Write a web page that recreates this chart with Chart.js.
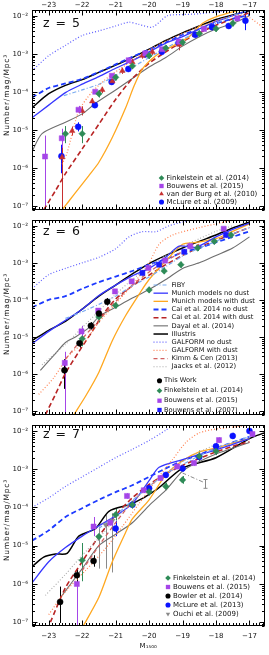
<!DOCTYPE html>
<html>
<head>
<meta charset="utf-8">
<script src="https://cdn.jsdelivr.net/npm/chart.js@4.4.1/dist/chart.umd.min.js"></script>
<style>
html, body { margin: 0; padding: 0; background: #fff; }
#wrap { position: relative; width: 269px; height: 655px; overflow: hidden; }
canvas { position: absolute; left: 0; }
</style>
</head>
<body>
<div id="wrap">
  <canvas id="c5" width="269" height="218" style="top:0px"></canvas>
  <canvas id="c6" width="269" height="211" style="top:212px"></canvas>
  <canvas id="c7" width="269" height="238" style="top:417px"></canvas>
</div>
<script>
// UV luminosity functions at z = 5, 6, 7
// all values: [M1500, log10(number / mag / Mpc^3)]; data points may add [.., err down, err up] in dex

const X_MIN = -23.5, X_MAX = -16.55;
const Y_MIN = -7.1, Y_MAX = -1.85;
const X_TICKS = [-23, -22, -21, -20, -19, -18, -17];
const Y_TICKS = [-7, -6, -5, -4, -3, -2];

// ---- z = 5 models ----
const Z5_FIBY = [[-22.55,-4.1],[-22.0,-3.95],[-21.5,-3.8],[-21.0,-3.58],[-20.5,-3.35],[-20.0,-3.1],[-19.5,-2.85],[-19.0,-2.62],[-18.5,-2.4],[-18.0,-2.2],[-17.5,-2.0],[-17.0,-1.85]];
const Z5_MUNICH_ND = [[-23.5,-4.68],[-23.0,-4.35],[-22.5,-4.02],[-22.0,-3.8],[-21.5,-3.6],[-21.0,-3.38],[-20.5,-3.18],[-20.0,-2.95],[-19.5,-2.72],[-19.0,-2.55],[-18.5,-2.35],[-18.0,-2.15],[-17.5,-2.0],[-17.0,-1.85]];
const Z5_MUNICH_D = [[-22.6,-7.1],[-22.2,-6.65],[-21.8,-6.2],[-21.5,-5.85],[-21.1,-5.2],[-20.7,-4.42],[-20.45,-3.85],[-20.2,-3.4],[-19.8,-3.05],[-19.3,-2.8],[-18.8,-2.55],[-18.4,-2.2],[-17.9,-2.0],[-17.3,-1.85]];
const Z5_CAI_ND = [[-23.5,-4.15],[-23.0,-3.9],[-22.5,-3.78],[-22.0,-3.66],[-21.5,-3.48],[-21.0,-3.28],[-20.5,-3.08],[-20.0,-2.89],[-19.5,-2.7],[-19.0,-2.5],[-18.5,-2.35],[-18.0,-2.2],[-17.5,-2.08],[-17.0,-1.98]];
const Z5_CAI_D = [[-23.15,-7.1],[-22.8,-6.6],[-22.5,-6.15],[-22.0,-5.5],[-21.5,-4.85],[-21.0,-4.2],[-20.5,-3.65],[-20.0,-3.25],[-19.5,-2.95],[-19.0,-2.68],[-18.5,-2.45],[-18.0,-2.25],[-17.5,-2.08],[-17.0,-1.92]];
const Z5_DAYAL = [[-23.5,-5.57],[-23.2,-5.1],[-22.5,-4.8],[-22.0,-4.58],[-21.6,-4.3],[-21.0,-3.95],[-20.5,-3.65],[-20.0,-3.35],[-19.5,-3.1],[-19.0,-2.8],[-18.5,-2.55],[-18.0,-2.35],[-17.5,-2.2],[-17.0,-2.0]];
const Z5_ILLUSTRIS = [[-23.5,-4.42],[-23.0,-4.05],[-22.5,-3.83],[-22.0,-3.68],[-21.5,-3.49],[-21.0,-3.3],[-20.5,-3.1],[-20.0,-2.88],[-19.5,-2.65],[-19.0,-2.45],[-18.5,-2.27],[-18.0,-2.1],[-17.5,-1.98],[-17.0,-1.87]];
const Z5_GAL_ND = [[-23.5,-3.45],[-23.0,-3.05],[-22.5,-2.78],[-22.0,-2.52],[-21.5,-2.4],[-21.0,-2.27],[-20.6,-2.17],[-20.3,-2.23],[-19.9,-2.3],[-19.45,-2.0],[-19.0,-1.97],[-18.5,-1.95],[-18.0,-1.9],[-17.5,-1.85],[-17.0,-1.8]];
const Z5_GAL_D = [[-22.6,-5.9],[-22.45,-5.6],[-22.1,-4.5],[-21.7,-4.0],[-21.2,-3.6],[-20.7,-3.3],[-20.2,-3.0],[-19.7,-2.75],[-19.2,-2.55],[-18.7,-2.35],[-18.2,-2.2],[-17.7,-2.05],[-17.3,-1.98],[-17.0,-2.05],[-16.6,-2.3]];

// ---- z = 5 data ----
const Z5_FINK = [[-22.5,-5.1,0.25,0.2],[-22.0,-5.1,0.25,0.2],[-21.5,-4.05,0.1],[-21.0,-3.62],[-20.5,-3.32],[-20.0,-3.05],[-19.5,-2.85],[-19.0,-2.7],[-18.5,-2.47],[-18.0,-2.34],[-17.5,-2.2]];
const Z5_BOU15 = [[-23.11,-5.70,2,0.55],[-22.61,-5.22,0.45,0.25],[-22.11,-4.47,0.1],[-21.61,-4.0],[-21.11,-3.58],[-20.61,-3.17],[-20.11,-2.99],[-19.61,-2.88],[-19.11,-2.68],[-18.36,-2.35],[-17.36,-2.07]];
const Z5_VDB = [[-22.6,-5.72,2,0.25],[-22.3,-5.03,0.12],[-22.0,-4.5,0.12],[-21.7,-4.25],[-21.4,-3.95],[-21.1,-3.72],[-20.8,-3.45],[-20.5,-3.22],[-20.2,-3.05],[-19.9,-2.95],[-19.1,-2.76,0.15]];
const Z5_MCLURE = [[-22.62,-5.69,0.45,0.3],[-22.12,-4.92,0.12],[-21.62,-4.35],[-21.12,-3.74],[-20.62,-3.4],[-20.12,-3.02],[-19.62,-2.95],[-19.12,-2.72],[-18.62,-2.5],[-18.12,-2.3],[-17.62,-2.27],[-17.12,-2.13,0.25]];

// ---- z = 6 models ----
const Z6_FIBY = [[-22.5,-4.5],[-22.0,-4.32],[-21.5,-4.12],[-21.0,-3.9],[-20.5,-3.62],[-20.0,-3.38],[-19.5,-3.1],[-19.0,-2.82],[-18.5,-2.6],[-18.0,-2.42],[-17.5,-2.22],[-17.0,-2.05]];
const Z6_MUNICH_ND = [[-23.5,-5.18],[-23.0,-4.85],[-22.5,-4.55],[-22.0,-4.25],[-21.5,-3.88],[-21.0,-3.6],[-20.5,-3.35],[-20.0,-3.15],[-19.5,-2.85],[-19.1,-2.55],[-18.6,-2.58],[-18.0,-2.3],[-17.5,-2.1],[-17.0,-1.93]];
const Z6_MUNICH_D = [[-22.25,-7.1],[-21.9,-6.6],[-21.5,-5.95],[-21.1,-5.1],[-20.7,-4.42],[-20.3,-3.85],[-20.0,-3.45],[-19.5,-2.95],[-19.0,-2.5],[-18.6,-2.45],[-18.0,-2.35],[-17.5,-2.15],[-17.0,-1.95]];
const Z6_CAI_ND = [[-23.5,-4.2],[-23.0,-4.0],[-22.5,-3.9],[-22.0,-3.7],[-21.5,-3.52],[-21.0,-3.37],[-20.5,-3.22],[-20.0,-3.05],[-19.5,-2.9],[-19.0,-2.72],[-18.5,-2.6],[-18.0,-2.45],[-17.5,-2.3],[-17.0,-2.15]];
const Z6_CAI_D = [[-23.1,-7.1],[-22.8,-6.55],[-22.5,-5.98],[-22.1,-5.4],[-21.7,-4.85],[-21.4,-4.42],[-21.0,-3.98],[-20.5,-3.62],[-20.0,-3.33],[-19.5,-3.05],[-19.0,-2.8],[-18.5,-2.58],[-18.0,-2.4],[-17.5,-2.22],[-17.0,-2.05]];
const Z6_DAYAL = [[-23.25,-5.9],[-22.8,-5.45],[-22.5,-5.15],[-22.2,-5.0],[-21.8,-4.75],[-21.5,-4.45],[-21.0,-4.2],[-20.5,-3.95],[-20.0,-3.72],[-19.5,-3.45],[-19.0,-3.15],[-18.5,-3.0],[-18.0,-2.8],[-17.5,-2.6],[-17.0,-2.3]];
const Z6_ILLUSTRIS = [[-23.5,-5.1],[-23.0,-4.82],[-22.5,-4.58],[-22.0,-4.25],[-21.5,-3.9],[-21.0,-3.6],[-20.5,-3.3],[-20.0,-3.02],[-19.5,-2.8],[-19.0,-2.6],[-18.5,-2.42],[-18.0,-2.25],[-17.5,-2.06],[-17.0,-1.9]];
const Z6_GAL_ND = [[-23.5,-3.7],[-23.0,-3.32],[-22.5,-3.15],[-22.0,-3.0],[-21.5,-2.85],[-21.0,-2.62],[-20.6,-2.3],[-20.2,-2.16],[-19.8,-2.16],[-19.4,-2.0],[-19.0,-1.9],[-18.5,-1.8]];
const Z6_GAL_D = [[-23.3,-6.55],[-22.85,-6.1],[-22.4,-5.5],[-21.9,-5.1],[-21.5,-4.6],[-21.0,-4.1],[-20.5,-3.6],[-20.0,-3.0],[-19.7,-2.5],[-19.3,-2.25],[-18.5,-2.05],[-18.0,-1.95],[-17.5,-1.85]];
const Z6_KIMM = [[-22.5,-5.6],[-22.0,-5.05],[-21.5,-4.55],[-21.0,-4.05],[-20.5,-3.6],[-20.0,-3.25],[-19.5,-2.95],[-19.0,-2.7],[-18.5,-2.5]];
const Z6_JAACKS = [[-23.2,-5.75],[-22.5,-5.2],[-22.0,-4.75],[-21.5,-4.3],[-21.0,-3.85],[-20.5,-3.45],[-20.0,-3.1],[-19.5,-2.8],[-19.0,-2.55],[-18.5,-2.35],[-18.0,-2.15],[-17.5,-2.0]];

// ---- z = 6 data ----
const Z6_THISWORK = [[-22.53,-5.9,0.5,0.3],[-22.08,-5.17,0.12],[-21.74,-4.7,0.1],[-21.5,-4.37],[-21.25,-4.05]];
const Z6_FINK = [[-22.0,-5.05,0.2],[-21.5,-4.46,0.15],[-21.0,-4.15],[-20.0,-3.73],[-19.55,-3.22],[-19.05,-3.05],[-18.55,-2.6],[-18.05,-2.42],[-17.55,-2.25]];
const Z6_BOU15 = [[-22.52,-5.7,2,0.3],[-22.02,-4.85,0.15],[-21.52,-4.29],[-21.02,-3.77],[-20.52,-3.5],[-20.02,-3.14],[-19.52,-2.94],[-18.77,-2.55],[-17.77,-2.08],[-16.77,-1.77]];
const Z6_BOU07 = [[-20.2,-3.27],[-19.7,-3.05],[-18.95,-2.7],[-17.7,-2.25]];

// ---- z = 7 models ----
const Z7_FIBY = [[-21.5,-4.55],[-21.0,-4.2],[-20.5,-3.82],[-20.0,-3.45],[-19.5,-3.12],[-19.0,-2.88],[-18.5,-2.65],[-18.0,-2.45],[-17.5,-2.3],[-17.0,-2.15]];
const Z7_MUNICH_ND = [[-23.5,-5.97],[-23.0,-5.42],[-22.5,-5.05],[-22.0,-4.75],[-21.5,-4.48],[-21.0,-4.22],[-20.5,-3.9],[-20.0,-3.3],[-19.7,-2.95],[-19.0,-2.75],[-18.5,-2.62],[-18.0,-2.5],[-17.5,-2.35],[-17.0,-2.2]];
const Z7_MUNICH_D = [[-22.0,-7.15],[-21.5,-6.35],[-21.1,-5.42],[-20.7,-4.65],[-20.5,-4.3],[-20.0,-3.8],[-19.5,-3.15],[-19.0,-2.78],[-18.5,-2.55],[-18.0,-2.45],[-17.5,-2.32],[-17.0,-2.2]];
const Z7_CAI_ND = [[-23.5,-4.87],[-23.0,-4.6],[-22.5,-4.25],[-22.0,-4.02],[-21.5,-3.8],[-21.0,-3.6],[-20.5,-3.42],[-20.0,-3.2],[-19.5,-2.98],[-19.0,-2.78],[-18.5,-2.62],[-18.0,-2.45],[-17.5,-2.3],[-17.0,-2.15]];
const Z7_CAI_D = [[-22.95,-7.0],[-22.5,-6.1],[-22.0,-5.42],[-21.5,-4.75],[-21.0,-4.2],[-20.5,-3.75],[-20.0,-3.4],[-19.5,-3.12],[-19.0,-2.9],[-18.5,-2.72],[-18.0,-2.55],[-17.5,-2.4],[-17.0,-2.28]];
const Z7_DAYAL = [[-22.6,-6.3],[-22.0,-5.6],[-21.5,-5.0],[-21.0,-4.7],[-20.5,-4.4],[-20.0,-3.95],[-19.5,-3.55],[-19.0,-3.05],[-18.5,-2.8],[-18.0,-2.6],[-17.5,-2.45],[-17.0,-2.3]];
const Z7_ILLUSTRIS = [[-23.5,-5.55],[-23.15,-5.3],[-22.8,-5.22],[-22.45,-5.2],[-22.1,-4.75],[-21.6,-4.55],[-21.2,-4.1],[-20.5,-3.9],[-19.8,-3.55],[-19.0,-2.97],[-18.0,-2.7],[-17.0,-2.2],[-16.55,-2.05]];
const Z7_GAL_ND = [[-23.5,-4.0],[-23.0,-3.75],[-22.5,-3.45],[-22.0,-3.2],[-21.5,-2.95],[-21.0,-2.7],[-20.5,-2.48],[-20.0,-2.25],[-19.5,-1.98],[-19.2,-1.8]];
const Z7_GAL_D = [[-23.0,-6.8],[-22.5,-6.2],[-21.9,-5.65],[-21.3,-5.07],[-20.8,-4.5],[-20.3,-3.9],[-19.8,-3.3],[-19.3,-2.75],[-18.9,-2.3],[-18.5,-2.05],[-18.0,-1.95],[-17.5,-1.9],[-17.0,-1.85]];
const Z7_KIMM = [[-22.0,-5.65],[-21.5,-5.0],[-21.0,-4.4],[-20.5,-3.85],[-20.0,-3.45],[-19.5,-3.12],[-19.0,-2.88]];
const Z7_JAACKS = [[-23.1,-6.3],[-22.5,-5.75],[-22.0,-5.25],[-21.5,-4.8],[-21.0,-4.3],[-20.5,-3.85],[-20.0,-3.45],[-19.5,-3.1],[-19.0,-2.8],[-18.5,-2.55],[-18.0,-2.35]];
const Z7_OUCHI_LINK = [[-19.0,-3.1],[-18.35,-3.35]];

// ---- z = 7 data ----
const Z7_FINK = [[-22.0,-5.38,0.55,0.45],[-21.5,-4.76,0.3,0.25],[-21.0,-4.19,0.15],[-20.5,-3.93],[-20.0,-3.59],[-19.5,-3.45],[-19.0,-3.28],[-18.5,-2.66,0.15],[-18.0,-2.53]];
const Z7_BOU15 = [[-22.16,-6.0,2,0.15],[-21.66,-4.5,0.25],[-21.16,-4.4],[-20.66,-3.7],[-20.16,-3.55],[-19.66,-3.23],[-19.16,-2.93],[-18.66,-2.84],[-17.91,-2.24],[-16.91,-2.08]];
const Z7_BOWLER = [[-22.66,-6.47,0.55,0.4],[-22.16,-5.77,0.2,0.15],[-21.66,-5.4,0.15]];
const Z7_MCLURE = [[-21.0,-4.55,0.2],[-20.5,-3.93],[-20.0,-3.5],[-19.5,-3.15],[-19.0,-2.98],[-18.5,-2.68],[-18.0,-2.4],[-17.5,-2.13],[-17.0,-2.0]];
const Z7_OUCHI = [[-21.5,-4.8,0.8,0.3],[-21.3,-4.45,1.15,0.25],[-21.1,-4.35,1.35,0.2]];
const Z7_OUCHI_BAR = [[-18.32,-3.38,0.12,0.11]];

// ---- styles ----
const MODEL = {
  fiby:      { label: 'FiBY', borderColor: '#79aaf0', borderDash: [4, 2, 1, 2], borderWidth: 1.2 },
  munichNd:  { label: 'Munich models no dust', borderColor: '#3636ff', borderWidth: 1.3 },
  munichD:   { label: 'Munich models with dust', borderColor: '#ffa820', borderWidth: 1.3 },
  caiNd:     { label: 'Cai et al. 2014 no dust', borderColor: '#1d3aff', borderDash: [5, 3], borderWidth: 1.8 },
  caiD:      { label: 'Cai et al. 2014 with dust', borderColor: '#b82424', borderDash: [5, 3], borderWidth: 1.6 },
  dayal:     { label: 'Dayal et al. (2014)', borderColor: '#6e6e6e', borderWidth: 1.1 },
  illustris: { label: 'Illustris', borderColor: '#000000', borderWidth: 1.5 },
  galNd:     { label: 'GALFORM no dust', borderColor: '#5f5fff', borderDash: [1, 2], borderWidth: 1.2 },
  galD:      { label: 'GALFORM with dust', borderColor: '#ff8050', borderDash: [1, 2], borderWidth: 1.2 },
  kimm:      { label: 'Kimm & Cen (2013)', borderColor: '#d06060', borderDash: [4, 3], borderWidth: 1.3 },
  jaacks:    { label: 'Jaacks et al. (2012)', borderColor: '#a8a8a8', borderDash: [1, 2], borderWidth: 1.1 },
  ouchiLink: { label: '', borderColor: '#8a8a8a', borderDash: [4, 2, 1, 2], borderWidth: 1 }
};
const OBS = {
  thisWork: { label: 'This Work', color: '#000000', pointStyle: 'circle', radius: 3 },
  fink:     { label: 'Finkelstein et al. (2014)', color: '#2e8b57', pointStyle: 'rectRot', radius: 3.3 },
  bou15:    { label: 'Bouwens et al. (2015)', color: '#a545e8', pointStyle: 'rect', radius: 3.6 },
  bou07:    { label: 'Bouwens et al. (2007)', color: '#1a1aff', pointStyle: 'rect', radius: 3.6 },
  vdb:      { label: 'van der Burg et al. (2010)', color: '#c83030', pointStyle: 'triangle', radius: 3.2 },
  mclure09: { label: 'McLure et al. (2009)', color: '#0a12ff', pointStyle: 'circle', radius: 3 },
  mclure13: { label: 'McLure et al. (2013)', color: '#0a12ff', pointStyle: 'circle', radius: 3 },
  bowler:   { label: 'Bowler et al. (2014)', color: '#000000', pointStyle: 'circle', radius: 3 },
  ouchi:    { label: 'Ouchi et al. (2009)', color: '#8a8a8a', pointStyle: 'triangle', radius: 3, rotation: 180 },
  ouchiBar: { label: '', color: '#8a8a8a', pointStyle: 'circle', radius: 0, cap: 2 }
};

function modelSet(key, pts) {
  const s = MODEL[key];
  return Object.assign({}, s, {
    data: pts.map(([m, l]) => ({ x: m, y: Math.pow(10, l) })),
    pointRadius: 0, fill: false, tension: 0.25, order: 2
  });
}

function obsSet(key, pts, dn) {
  const s = OBS[key];
  return {
    label: s.label,
    data: pts.map(([m, l, d = dn, u = d]) => ({ x: m, y: Math.pow(10, l), lo: Math.pow(10, l - d), hi: Math.pow(10, l + u) })),
    showLine: false,
    pointStyle: s.pointStyle,
    pointRotation: s.rotation || 0,
    pointRadius: s.radius,
    pointBackgroundColor: s.color,
    pointBorderColor: s.color,
    pointBorderWidth: 0.5,
    errColor: s.color,
    errCap: s.cap || 0,
    order: 1
  };
}

const SUP = { '-': '\u207b', '1': '\u00b9', '2': '\u00b2', '3': '\u00b3', '4': '\u2074', '5': '\u2075', '6': '\u2076', '7': '\u2077', '8': '\u2078', '9': '\u2079', '0': '\u2070' };
const sup = s => String(s).split('').map(c => SUP[c] || c).join('');

// error bars drawn under the markers
const errorBars = {
  id: 'errorBars',
  beforeDatasetsDraw(chart) {
    const { ctx, chartArea: a, scales: { x, y } } = chart;
    ctx.save();
    ctx.beginPath();
    ctx.rect(a.left, a.top, a.right - a.left, a.bottom - a.top);
    ctx.clip();
    ctx.lineWidth = 1;
    chart.data.datasets.forEach(ds => {
      if (!ds.errColor) return;
      ctx.strokeStyle = ds.errColor;
      ds.data.forEach(p => {
        const px = Math.round(x.getPixelForValue(p.x)) + 0.5;
        const y0 = Math.min(y.getPixelForValue(p.lo), a.bottom + 2);
        const y1 = Math.max(y.getPixelForValue(p.hi), a.top - 2);
        ctx.beginPath();
        ctx.moveTo(px, y0);
        ctx.lineTo(px, y1);
        if (ds.errCap) {
          ctx.moveTo(px - ds.errCap, y0); ctx.lineTo(px + ds.errCap, y0);
          ctx.moveTo(px - ds.errCap, y1); ctx.lineTo(px + ds.errCap, y1);
        }
        ctx.stroke();
      });
    });
    ctx.restore();
  }
};

// frame with inward ticks, panel label, y title and legend
const decorations = {
  id: 'decorations',
  afterDraw(chart, args, opts) {
    const { ctx, chartArea: a, scales: { x, y } } = chart;
    const p = opts.panel;
    ctx.save();
    ctx.strokeStyle = '#000';
    ctx.lineWidth = 1;
    const L = Math.round(a.left) + 0.5, R = Math.round(a.right) - 0.5;
    const T = Math.round(a.top) + 0.5, B = Math.round(a.bottom) - 0.5;
    ctx.strokeRect(L, T, R - L, B - T);
    ctx.beginPath();
    for (let i = Math.ceil(X_MIN * 10); i <= Math.floor(X_MAX * 10); i++) {
      const px = Math.round(x.getPixelForValue(i / 10)) + 0.5;
      const len = i % 10 === 0 ? 5 : 2.5;
      ctx.moveTo(px, T); ctx.lineTo(px, T + len);
      ctx.moveTo(px, B); ctx.lineTo(px, B - len);
    }
    for (let n = -8; n <= -1; n++) {
      for (let k = 1; k <= 9; k++) {
        const v = n + Math.log10(k);
        if (v < Y_MIN || v > Y_MAX) continue;
        const py = Math.round(y.getPixelForValue(Math.pow(10, v))) + 0.5;
        const len = k === 1 ? 5 : 2.5;
        ctx.moveTo(L, py); ctx.lineTo(L + len, py);
        ctx.moveTo(R, py); ctx.lineTo(R - len, py);
      }
    }
    ctx.stroke();

    const top = p.top;
    ctx.fillStyle = '#111';
    ctx.textBaseline = 'middle';
    ctx.font = '12.5px "DejaVu Sans"';
    ctx.textAlign = 'left';
    ctx.letterSpacing = '1px';
    ctx.fillText(p.zLabel, 43, p.zY - top);

    ctx.save();
    ctx.translate(7, p.titleY - top);
    ctx.rotate(-Math.PI / 2);
    ctx.textAlign = 'center';
    ctx.font = '7.5px "DejaVu Sans"';
    ctx.letterSpacing = '0.8px';
    ctx.fillText('Number/mag/Mpc' + sup(3), 0, 0);
    ctx.restore();

    const lg = p.legend;
    ctx.letterSpacing = '0px';
    ctx.font = lg.font;
    ctx.textAlign = 'left';
    lg.lines.forEach(([key, yy]) => {
      const s = MODEL[key];
      ctx.strokeStyle = s.borderColor;
      ctx.lineWidth = s.borderWidth;
      ctx.setLineDash(s.borderDash || []);
      ctx.beginPath();
      ctx.moveTo(lg.lineX0, yy - top);
      ctx.lineTo(lg.lineX1, yy - top);
      ctx.stroke();
      ctx.setLineDash([]);
      ctx.fillText(s.label, lg.lineTextX, yy - top);
    });
    lg.points.forEach(([key, yy]) => {
      const s = OBS[key];
      ctx.fillStyle = s.color;
      ctx.strokeStyle = s.color;
      Chart.helpers.drawPoint(ctx, { pointStyle: s.pointStyle, rotation: s.rotation || 0, radius: s.radius * 0.85, borderWidth: 0 }, lg.markX, yy - top);
      ctx.fillStyle = '#111';
      ctx.fillText(s.label, lg.textX, yy - top);
    });
    ctx.restore();
  }
};

Chart.defaults.font.family = '"DejaVu Sans"';
Chart.defaults.font.size = 7;
Chart.defaults.color = '#111';

const PANELS = [
  {
    id: 'c5', top: 0, padTop: 0, padBottom: 3, xPos: 'top', xShow: true, xHeight: 10, xPad: 1,
    zLabel: 'z = 5', zY: 24, titleY: 95,
    datasets: [
      modelSet('galNd', Z5_GAL_ND), modelSet('galD', Z5_GAL_D), modelSet('fiby', Z5_FIBY),
      modelSet('munichNd', Z5_MUNICH_ND), modelSet('munichD', Z5_MUNICH_D),
      modelSet('caiNd', Z5_CAI_ND), modelSet('caiD', Z5_CAI_D),
      modelSet('dayal', Z5_DAYAL), modelSet('illustris', Z5_ILLUSTRIS),
      obsSet('fink', Z5_FINK, 0.08), obsSet('bou15', Z5_BOU15, 0.05),
      obsSet('vdb', Z5_VDB, 0.08), obsSet('mclure09', Z5_MCLURE, 0.07)
    ],
    legend: {
      font: '7px "DejaVu Sans"', lineX0: 0, lineX1: 0, lineTextX: 0, markX: 161.5, textX: 166.5,
      lines: [],
      points: [['fink', 178], ['bou15', 186], ['vdb', 194], ['mclure09', 202]]
    }
  },
  {
    id: 'c6', top: 212, padTop: 3, padBottom: 3, xPos: 'bottom', xShow: false, xHeight: 0, xPad: 0,
    zLabel: 'z = 6', zY: 232, titleY: 314,
    datasets: [
      modelSet('galNd', Z6_GAL_ND), modelSet('galD', Z6_GAL_D), modelSet('fiby', Z6_FIBY),
      modelSet('jaacks', Z6_JAACKS), modelSet('kimm', Z6_KIMM),
      modelSet('munichNd', Z6_MUNICH_ND), modelSet('munichD', Z6_MUNICH_D),
      modelSet('caiNd', Z6_CAI_ND), modelSet('caiD', Z6_CAI_D),
      modelSet('dayal', Z6_DAYAL), modelSet('illustris', Z6_ILLUSTRIS),
      obsSet('thisWork', Z6_THISWORK, 0.1), obsSet('fink', Z6_FINK, 0.08),
      obsSet('bou15', Z6_BOU15, 0.05), obsSet('bou07', Z6_BOU07, 0.07)
    ],
    legend: {
      font: '6.7px "DejaVu Sans"', lineX0: 153.5, lineX1: 168, lineTextX: 171.5, markX: 159.5, textX: 164,
      lines: ['fiby', 'munichNd', 'munichD', 'caiNd', 'caiD', 'dayal', 'illustris', 'galNd', 'galD', 'kimm', 'jaacks']
        .map((k, i) => [k, 285 + 8.17 * i]),
      points: [['thisWork', 380.7], ['fink', 390.7], ['bou15', 400.7], ['bou07', 410]]
    }
  },
  {
    id: 'c7', top: 417, padTop: 3, padBottom: 0, xPos: 'bottom', xShow: true, xHeight: 29, xPad: 6,
    zLabel: 'z = 7', zY: 435, titleY: 520,
    datasets: [
      modelSet('galNd', Z7_GAL_ND), modelSet('galD', Z7_GAL_D), modelSet('fiby', Z7_FIBY),
      modelSet('jaacks', Z7_JAACKS), modelSet('kimm', Z7_KIMM),
      modelSet('munichNd', Z7_MUNICH_ND), modelSet('munichD', Z7_MUNICH_D),
      modelSet('caiNd', Z7_CAI_ND), modelSet('caiD', Z7_CAI_D),
      modelSet('dayal', Z7_DAYAL), modelSet('illustris', Z7_ILLUSTRIS),
      modelSet('ouchiLink', Z7_OUCHI_LINK),
      obsSet('fink', Z7_FINK, 0.1), obsSet('bou15', Z7_BOU15, 0.07),
      obsSet('bowler', Z7_BOWLER, 0.15), obsSet('mclure13', Z7_MCLURE, 0.08),
      obsSet('ouchi', Z7_OUCHI, 0.2), obsSet('ouchiBar', Z7_OUCHI_BAR, 0.1)
    ],
    legend: {
      font: '7px "DejaVu Sans"', lineX0: 0, lineX1: 0, lineTextX: 0, markX: 168, textX: 173,
      lines: [],
      points: [['fink', 578], ['bou15', 587], ['bowler', 596], ['mclure13', 605], ['ouchi', 614]]
    }
  }
];

PANELS.forEach(p => {
  new Chart(document.getElementById(p.id), {
    type: 'line',
    data: { datasets: p.datasets },
    options: {
      responsive: false,
      animation: false,
      devicePixelRatio: 1,
      events: [],
      layout: { padding: { top: p.padTop, bottom: p.padBottom, left: 0, right: 2 } },
      plugins: { legend: { display: false }, tooltip: { enabled: false }, decorations: { panel: p } },
      scales: {
        x: {
          type: 'linear', min: X_MIN, max: X_MAX, position: p.xPos, display: p.xShow,
          grid: { display: false, drawTicks: false }, border: { display: false },
          ticks: { autoSkip: false, maxRotation: 0, padding: p.xPad, callback: v => String(v).replace('-', '\u2212') },
          afterBuildTicks: s => { s.ticks = X_TICKS.map(v => ({ value: v })); },
          afterFit: s => { s.height = p.xHeight; },
          title: { display: p.id === 'c7', text: 'M\u2081\u2085\u2080\u2080', padding: { top: 0, bottom: 5 }, font: { size: 7 } }
        },
        y: {
          type: 'logarithmic', min: Math.pow(10, Y_MIN), max: Math.pow(10, Y_MAX),
          grid: { display: false, drawTicks: false }, border: { display: false },
          ticks: { autoSkip: false, padding: 4, callback: v => '10' + sup(Math.round(Math.log10(v))) },
          afterBuildTicks: s => { s.ticks = Y_TICKS.map(v => ({ value: Math.pow(10, v) })); },
          afterFit: s => { s.width = 32; }
        }
      }
    },
    plugins: [errorBars, decorations]
  });
});
</script>
</body>
</html>
